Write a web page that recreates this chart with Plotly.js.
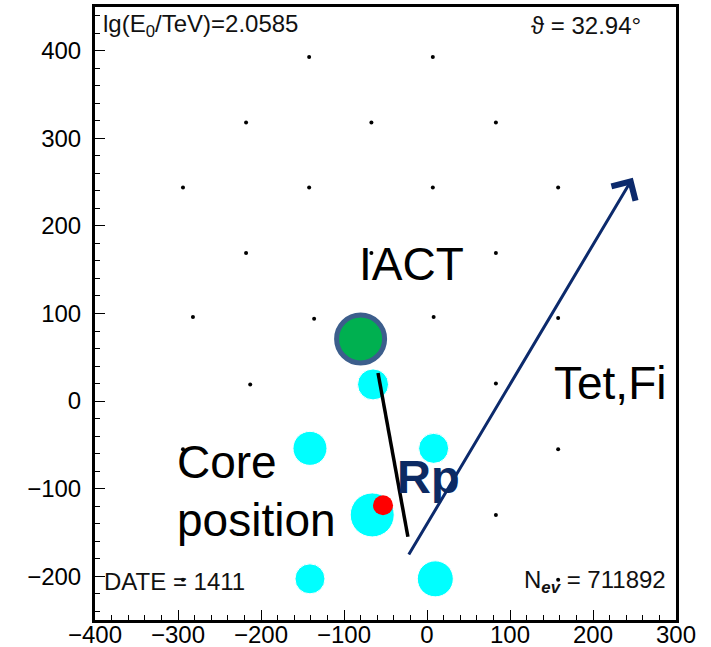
<!DOCTYPE html>
<html>
<head>
<meta charset="utf-8">
<script src="https://cdn.plot.ly/plotly-3.0.1.min.js"></script>
<style>html,body{margin:0;padding:0;background:#fff;}#chart{width:711px;height:647px;}</style>
</head>
<body>
<div id="chart"></div>
<script>
// Detector stations (small black dots)
var detX = [-142, 7, -218, -67, 83, -294, -142, 7, 158, -218, -67, 83, -282, -136, 8, 158, -213, -67, 83, -294, -141, 8, 158, -66, 83, -294, -141, 10, 158];
var detY = [393, 393, 318, 318, 318, 244, 244, 244, 244, 169, 169, 169, 96, 94, 96, 95, 19, 19, 20, -55, -54, -54, -55, -130, -130, -204, -203, -203, -204];
// Hit stations (cyan)
var hitX = [-65, -141, 8, -66, -141, 10];
var hitY = [19, -54, -54, -130, -203, -203];
var hitSize = [31, 34, 30, 44, 30, 36];
// IACT position
var iactX = [-80];
var iactY = [71];
// Reconstructed core position
var coreX = [-53];
var coreY = [-119];
// Rp segment
var rpX = [-59, -23];
var rpY = [32, -155];
// Shower direction arrow (tail, head)
var arrX = [-23, 248];
var arrY = [-177, 255];

var traces = [
  {x: detX, y: detY, mode: 'markers', type: 'scatter', marker: {color: '#000', size: 4, opacity: 1}, hoverinfo: 'none'},
  {x: hitX, y: hitY, mode: 'markers', type: 'scatter', marker: {color: '#00ffff', size: hitSize, opacity: 1}, hoverinfo: 'none'},
  {x: iactX, y: iactY, mode: 'markers', type: 'scatter', marker: {color: '#00b050', size: 48, opacity: 1, line: {color: '#3c5e8c', width: 5}}, hoverinfo: 'none'},
  {x: coreX, y: coreY, mode: 'markers', type: 'scatter', marker: {color: '#ff0000', size: 20, opacity: 1}, hoverinfo: 'none'},
  {x: rpX, y: rpY, mode: 'lines', type: 'scatter', line: {color: '#000', width: 3.5}, hoverinfo: 'none'}
];

var big = {family: 'Liberation Sans, Arial, sans-serif', size: 46, color: '#000'};
var small = {family: 'Liberation Sans, Arial, sans-serif', size: 24, color: '#111'};

var annotations = [
  {x: arrX[1], y: arrY[1], ax: arrX[0], ay: arrY[0], xref: 'x', yref: 'y', axref: 'x', ayref: 'y', text: '', showarrow: true, arrowhead: 4, arrowsize: 1.8, arrowwidth: 3, arrowcolor: '#0c2a6c'},
  {x: -19, y: 156, xref: 'x', yref: 'y', text: 'IACT', showarrow: false, font: big, xanchor: 'center', yanchor: 'middle'},
  {x: 220, y: 21, xref: 'x', yref: 'y', text: 'Tet,Fi', showarrow: false, font: big, xanchor: 'center', yanchor: 'middle'},
  {x: -304, y: -70, xref: 'x', yref: 'y', text: 'Core', showarrow: false, font: big, xanchor: 'left', yanchor: 'middle'},
  {x: -304, y: -136, xref: 'x', yref: 'y', text: 'position', showarrow: false, font: big, xanchor: 'left', yanchor: 'middle'},
  {x: -38, y: -86, xref: 'x', yref: 'y', text: '<b>Rp</b>', showarrow: false, font: {family: 'Liberation Sans, Arial, sans-serif', size: 47, color: '#0c2a63'}, xanchor: 'left', yanchor: 'middle'},
  {x: -393, y: 429, xref: 'x', yref: 'y', text: 'lg(E<sub>0</sub>/TeV)=2.0585', showarrow: false, font: small, xanchor: 'left', yanchor: 'middle'},
  {x: 260, y: 429, xref: 'x', yref: 'y', text: 'ϑ = 32.94°', showarrow: false, font: small, xanchor: 'right', yanchor: 'middle'},
  {x: -392, y: -206, xref: 'x', yref: 'y', text: 'DATE = 1411', showarrow: false, font: small, xanchor: 'left', yanchor: 'middle'},
  {x: 290, y: -206, xref: 'x', yref: 'y', text: 'N<sub><b><i>ev</i></b></sub> = 711892', showarrow: false, font: small, xanchor: 'right', yanchor: 'middle'}
];

var axisCommon = {
  showgrid: false, zeroline: false, showline: true, mirror: true, linecolor: '#000', linewidth: 3,
  ticks: 'inside', ticklen: 10, tickwidth: 1, tickcolor: '#000', dtick: 100,
  minor: {ticks: 'inside', ticklen: 5, dtick: 20, tickcolor: '#000', tickwidth: 1},
  tickfont: {family: 'Liberation Sans, Arial, sans-serif', size: 24, color: '#000'},
  fixedrange: true
};

var layout = {
  width: 711, height: 647,
  margin: {l: 95, r: 35, t: 7, b: 27},
  paper_bgcolor: '#fff', plot_bgcolor: '#fff',
  showlegend: false,
  xaxis: Object.assign({}, axisCommon, {range: [-400, 300], tick0: -400, ticklabelstandoff: -9}),
  yaxis: Object.assign({}, axisCommon, {range: [-250, 450], tick0: -200, ticklabelstandoff: 6}),
  annotations: annotations
};

Plotly.newPlot('chart', traces, layout, {displayModeBar: false, staticPlot: true});
</script>
</body>
</html>
